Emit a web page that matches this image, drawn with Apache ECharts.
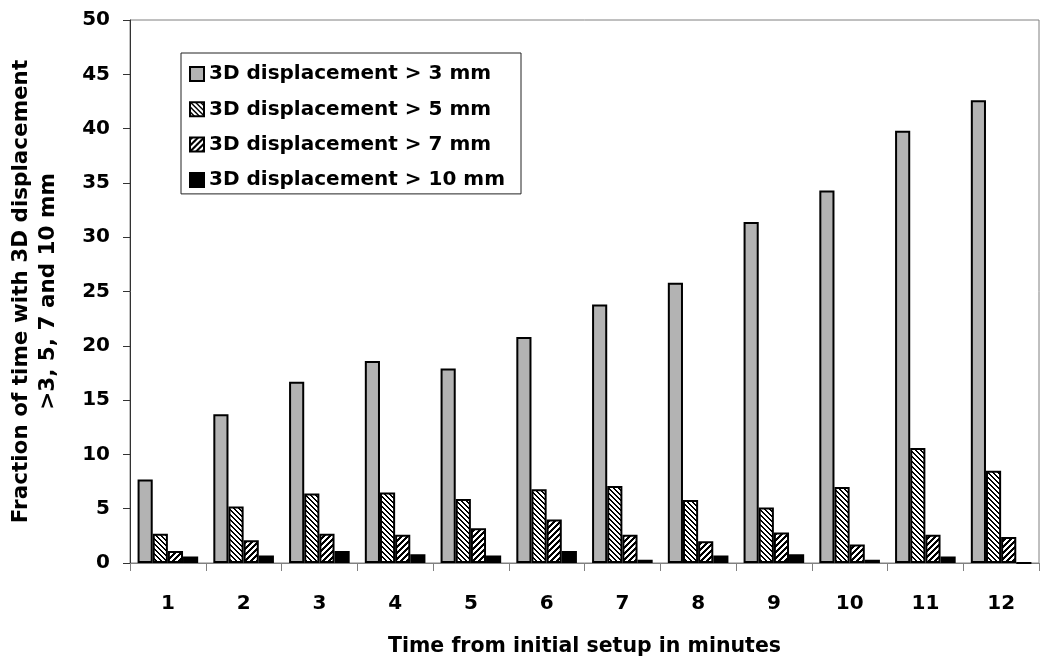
<!DOCTYPE html>
<html>
<head>
<meta charset="utf-8">
<script src="https://cdn.jsdelivr.net/npm/echarts@6/dist/echarts.min.js"></script>
<style>
html,body{margin:0;padding:0;background:#fff;}
#chart{width:1050px;height:668px;}
</style>
</head>
<body>
<div id="chart"></div>
<script>
var categories = ['1','2','3','4','5','6','7','8','9','10','11','12'];
var seriesNames = ['3D displacement > 3 mm','3D displacement > 5 mm','3D displacement > 7 mm','3D displacement > 10 mm'];
var disp3 = [7.7, 13.7, 16.7, 18.6, 17.9, 20.8, 23.8, 25.8, 31.4, 34.3, 39.8, 42.6];
var disp5 = [2.7, 5.2, 6.4, 6.5, 5.9, 6.8, 7.1, 5.8, 5.1, 7.0, 10.6, 8.5];
var disp7 = [1.1, 2.1, 2.7, 2.6, 3.2, 4.0, 2.6, 2.0, 2.8, 1.7, 2.6, 2.4];
var disp10 = [0.6, 0.7, 1.1, 0.8, 0.7, 1.1, 0.3, 0.7, 0.8, 0.3, 0.6, 0];
var yTicks = {min: 0, max: 50, interval: 5};

function makePattern(dir, period, lineW) {
  var c = document.createElement('canvas');
  c.width = period; c.height = period;
  var ctx = c.getContext('2d');
  var img = ctx.createImageData(period, period);
  for (var y = 0; y < period; y++) {
    for (var x = 0; x < period; x++) {
      var k = dir > 0 ? ((x - y) % period + period) % period : (x + y) % period;
      var black = k < lineW;
      var i = (y * period + x) * 4;
      var v = black ? 0 : 255;
      img.data[i] = v; img.data[i+1] = v; img.data[i+2] = v; img.data[i+3] = 255;
    }
  }
  ctx.putImageData(img, 0, 0);
  return c;
}
var back = makePattern(1, 5, 2);   // "\\\" stripes
var fwd = makePattern(-1, 6, 3);   // "///" thicker stripes

var chart = echarts.init(document.getElementById('chart'), null, {renderer: 'canvas'});
var font = '"DejaVu Sans", Verdana, sans-serif';
var border = {borderColor: '#000', borderWidth: 2};
function mk(name, data, color) {
  return {
    name: name, type: 'bar', data: data,
    barGap: '0%', barCategoryGap: '20%',
    itemStyle: Object.assign({color: color}, border),
    emphasis: {disabled: true}
  };
}
chart.setOption({
  animation: false,
  backgroundColor: '#fff',
  grid: {left: 130, right: 11, top: 20, bottom: 105, show: true, borderColor: '#808080', borderWidth: 1,
         containLabel: false, outerBoundsMode: 'none'},
  legend: {
    orient: 'vertical', left: 181, top: 53,
    icon: 'rect',
    itemWidth: 14, itemHeight: 14, itemGap: 15.3,
    padding: [11, 16, 4, 8],
    borderColor: '#222', borderWidth: 1,
    textStyle: {fontFamily: font, fontWeight: 'bold', fontSize: 20, color: '#000'},
    data: seriesNames
  },
  xAxis: {
    type: 'category', data: categories,
    name: 'Time from initial setup in minutes', nameLocation: 'middle', nameGap: 73,
    nameTextStyle: {fontFamily: font, fontWeight: 'bold', fontSize: 20.5, color: '#000'},
    axisLine: {lineStyle: {color: '#808080', width: 1}},
    axisTick: {show: true, interval: 0, length: 8, lineStyle: {color: '#808080'}},
    axisLabel: {fontFamily: font, fontWeight: 'bold', fontSize: 20, color: '#000', margin: 31, interval: 0}
  },
  yAxis: {
    type: 'value', min: yTicks.min, max: yTicks.max, interval: yTicks.interval,
    name: 'Fraction of time with 3D displacement\n>3, 5, 7 and 10 mm',
    nameLocation: 'middle', nameRotate: 90, nameGap: 68,
    nameTextStyle: {fontFamily: font, fontWeight: 'bold', fontSize: 21.5, color: '#000', lineHeight: 27},
    axisLine: {show: true, lineStyle: {color: '#333', width: 1}},
    axisTick: {show: true, length: 7, lineStyle: {color: '#333'}},
    splitLine: {show: false},
    axisLabel: {fontFamily: font, fontWeight: 'bold', fontSize: 20, color: '#000', margin: 20}
  },
  series: [
    mk(seriesNames[0], disp3, '#b3b3b3'),
    mk(seriesNames[1], disp5, {image: back, repeat: 'repeat'}),
    mk(seriesNames[2], disp7, {image: fwd, repeat: 'repeat'}),
    mk(seriesNames[3], disp10, '#000')
  ]
});
</script>
</body>
</html>
